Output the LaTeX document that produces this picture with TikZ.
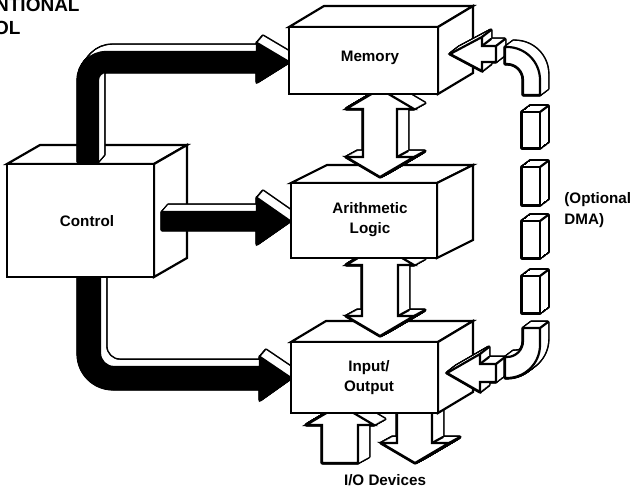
\documentclass[tikz,border=0pt]{standalone}
\usepackage{fontspec}
\setmainfont{Liberation Sans}
\tikzset{
  lbl/.style={font=\fontsize{7.6}{10}\selectfont\bfseries, inner sep=0pt},
  boxline/.style={draw=black, fill=white, line width=1.1pt, line join=miter},
  crease/.style={line width=1.1pt, line cap=round},
}
\newcommand\xtr[4]{%
  \foreach \xs in {0,0.05,...,1.01}{\draw[line width=1.6pt, line join=round, shift={(\xs*#2,\xs*#3)}] #1;}%
  \foreach \xs in {0,0.05,...,1.01}{\fill[white, shift={(\xs*#2,\xs*#3)}] #1;}%
  \filldraw[fill=#4, draw=black, line width=1.1pt, line join=miter] #1;%
}
\newcommand\drawcube[6]{%
  \filldraw[boxline] (#1,#2) -- ({#1+#5},{#2+#6}) -- ({#3+#5},{#2+#6}) -- (#3,#2) -- cycle;
  \filldraw[boxline] (#3,#2) -- ({#3+#5},{#2+#6}) -- ({#3+#5},{#4+#6}) -- (#3,#4) -- cycle;
  \filldraw[boxline] (#1,#2) rectangle (#3,#4);
}
\begin{document}
\begin{tikzpicture}[x=0.5pt,y=-0.5pt]
\useasboundingbox (0,0) rectangle (635,491);
\fill[white] (0,0) rectangle (635,491);

% title fragment (cut off at the left edge, as in the reference)
\node[font=\fontsize{9.5}{10}\selectfont\bfseries, inner sep=0pt, anchor=base east] (t1) at (80,12) {NTIONAL};
\node[font=\fontsize{9.5}{10}\selectfont\bfseries, inner sep=0pt, anchor=base east] (t2) at (21,35) {OL};

% bottom control pipe
\xtr{(78,268) -- (78,354) arc[start angle=180,end angle=270,radius=17.5pt] -- (260,389) -- (260,400) -- (291,378) -- (260,357) -- (260,367) -- (114,367) arc[start angle=270,end angle=180,radius=7pt] -- (100,268) -- cycle}{6}{-7}{black}

% control box
\drawcube{7}{164}{154}{277}{33}{-19}

% top control pipe
\xtr{(78,162) -- (78,80) arc[start angle=180,end angle=90,radius=14pt] -- (257,52) -- (257,43) -- (289,62) -- (257,82) -- (257,72) -- (106,72) arc[start angle=90,end angle=180,radius=4pt] -- (98,162) -- cycle}{6}{-7}{black}

% middle control pipe
\xtr{(162,212) -- (257,212) -- (257,198) -- (290,221) -- (257,244) -- (257,230) -- (162,230) -- cycle}{6}{-7}{black}

% I/O device arrows
\xtr{(340,405) -- (374,425) -- (358,425) -- (358,463) -- (322,463) -- (322,425) -- (306,425) -- cycle}{11}{-6}{white}
\xtr{(397,400) -- (432,400) -- (432,443) -- (449,443) -- (415,463) -- (381,443) -- (397,443) -- cycle}{11}{-6}{white}
\draw[crease] (432,443) -- ++(11,-6);
\draw[crease] (449,443) -- ++(11,-6);

% IO box
\drawcube{291}{342}{438}{413}{35}{-21}

% arrow arith <-> io
\xtr{(380,245) -- (414,265) -- (398,265) -- (398,316) -- (414,316) -- (380,336) -- (346,316) -- (362,316) -- (362,265) -- (346,265) -- cycle}{11}{-6}{white}
\draw[crease] (398,316) -- ++(11,-6);
\draw[crease] (414,316) -- ++(11,-6);

% arith box
\drawcube{291}{183}{437}{258}{36}{-18}

% arrow memory <-> arith
\xtr{(380,89) -- (414,109) -- (397,109) -- (397,157) -- (414,157) -- (380,177) -- (346,157) -- (363,157) -- (363,109) -- (346,109) -- cycle}{11}{-6}{white}
\draw[crease] (397,157) -- ++(11,-6);
\draw[crease] (414,157) -- ++(11,-6);

% memory box
\drawcube{289}{27}{438}{94}{35}{-21}

% DMA arrows
\xtr{(450,54) -- (482,37) -- (482,46) -- (496,46) -- (496,62) -- (482,62) -- (482,71) -- cycle}{9}{-7}{white}
\draw[crease] (482,37) -- ++(9,-7);
\draw[crease] (482,46) -- ++(9,-7);
\draw[crease] (496,46) -- ++(9,-7);
\xtr{(447,373) -- (480,354) -- (480,364) -- (496,364) -- (496,382) -- (480,382) -- (480,392) -- cycle}{9}{-7}{white}
\draw[crease] (480,354) -- ++(9,-7);
\draw[crease] (480,364) -- ++(9,-7);
\draw[crease] (496,364) -- ++(9,-7);

% DMA path: elbows and blocks
\xtr{(505,47) -- (507,47) arc[start angle=90,end angle=0,radius=16.5pt] -- (540,95) -- (523,95) -- (523,80) arc[start angle=0,end angle=90,radius=8pt] -- (505,64) -- cycle}{8}{-6}{white}
\xtr{(522,112) rectangle (540,148)}{8}{-6}{white}
\draw[crease] (540,112) -- ++(8,-6);
\xtr{(522,167) rectangle (540,205)}{8}{-6}{white}
\draw[crease] (540,167) -- ++(8,-6);
\xtr{(522,221) rectangle (540,258)}{8}{-6}{white}
\draw[crease] (540,221) -- ++(8,-6);
\xtr{(522,276) rectangle (540,313)}{8}{-6}{white}
\draw[crease] (540,276) -- ++(8,-6);
\xtr{(523,328) -- (540,328) -- (540,345) arc[start angle=0,end angle=-90,radius=16.5pt] -- (505,378) -- (505,357) -- (507,357) arc[start angle=-90,end angle=0,radius=8pt] -- cycle}{8}{-6}{white}
\draw[crease] (540,328) -- ++(8,-6);

% labels
\node[lbl] (memlbl) at (370,58) {Memory};
\node[lbl, align=center] (alulbl) at (370,220) {Arithmetic\\Logic};
\node[lbl, align=center] (iolbl) at (369,378) {Input/\\Output};
\node[lbl] (ctrllbl) at (87,221) {Control};
\node[lbl, align=left, anchor=west, font=\fontsize{7.6}{10.5}\selectfont\bfseries] (dmalbl) at (564,210) {(Optional\\DMA)};
\node[lbl] (devlbl) at (385,480) {I/O Devices};
\end{tikzpicture}
\end{document}
